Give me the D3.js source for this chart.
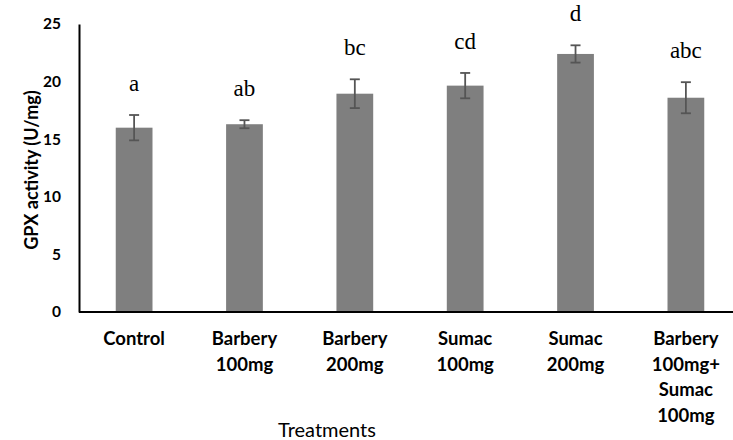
<!DOCTYPE html>
<html>
<head>
<meta charset="utf-8">
<script src="https://cdn.jsdelivr.net/npm/d3@7"></script>
<style>
  body { margin: 0; background: #fff; }
  svg { display: block; }
</style>
</head>
<body>
<div id="app"></div>
<script>
// values
const treatments = [
  ['Control'],
  ['Barbery', '100mg'],
  ['Barbery', '200mg'],
  ['Sumac', '100mg'],
  ['Sumac', '200mg'],
  ['Barbery', '100mg+', 'Sumac', '100mg']
];
const means = [16.0, 16.3, 18.95, 19.65, 22.4, 18.6];
const errors = [1.1, 0.35, 1.25, 1.1, 0.75, 1.35];
const letters = ['a', 'ab', 'bc', 'cd', 'd', 'abc'];
const yTicks = [0, 5, 10, 15, 20, 25];

const data = treatments.map((t, i) => ({
  key: t.join(' '), lines: t, mean: means[i], err: errors[i], letter: letters[i]
}));

const svg = d3.select('#app').append('svg')
    .attr('width', 733)
    .attr('height', 440);

const margin = { top: 24, left: 79, bottom: 128 };
const height = 440 - margin.top - margin.bottom;

const x = d3.scaleBand()
    .domain(data.map(d => d.key))
    .range([margin.left, margin.left + 662])
    .paddingInner(0.667)
    .paddingOuter(0.333);

const y = d3.scaleLinear()
    .domain([0, 25])
    .range([margin.top + height, margin.top]);

// bars
svg.append('g').selectAll('rect')
  .data(data)
  .enter().append('rect')
    .attr('x', d => x(d.key))
    .attr('y', d => y(d.mean))
    .attr('width', x.bandwidth())
    .attr('height', d => y(0) - y(d.mean))
    .attr('fill', '#7f7f7f');

// error bars
const eb = svg.append('g').selectAll('g')
  .data(data)
  .enter().append('g')
    .attr('stroke', '#555')
    .attr('stroke-width', 1.8);

eb.append('line')
    .attr('x1', d => x(d.key) + x.bandwidth() / 2)
    .attr('x2', d => x(d.key) + x.bandwidth() / 2)
    .attr('y1', d => y(d.mean + d.err))
    .attr('y2', d => y(d.mean - d.err));

eb.selectAll('.cap')
  .data(d => [d.mean + d.err, d.mean - d.err].map(v => ({ key: d.key, v })))
  .enter().append('line')
    .attr('class', 'cap')
    .attr('x1', d => x(d.key) + x.bandwidth() / 2 - 5)
    .attr('x2', d => x(d.key) + x.bandwidth() / 2 + 5)
    .attr('y1', d => y(d.v))
    .attr('y2', d => y(d.v));

// significance letters
svg.append('g').selectAll('text')
  .data(data)
  .enter().append('text')
    .attr('x', d => x(d.key) + x.bandwidth() / 2)
    .attr('y', d => y(d.mean + d.err) - 24)
    .attr('text-anchor', 'middle')
    .attr('font-family', '"Liberation Serif", serif')
    .attr('font-size', 23)
    .attr('fill', '#000')
    .text(d => d.letter);

// y axis
const yAxis = svg.append('g')
    .attr('transform', `translate(${margin.left},0)`)
    .call(d3.axisLeft(y).tickValues(yTicks).tickSize(0).tickPadding(18));

yAxis.select('.domain')
    .attr('stroke', '#000')
    .attr('stroke-width', 2);

yAxis.selectAll('.tick text')
    .attr('font-family', 'Lato, sans-serif')
    .attr('font-weight', 'bold')
    .attr('font-size', 15.5)
    .attr('fill', '#000');

// x axis
svg.append('line')
    .attr('x1', margin.left)
    .attr('x2', 733)
    .attr('y1', y(0))
    .attr('y2', y(0))
    .attr('stroke', '#000')
    .attr('stroke-width', 2);

const xl = svg.append('g').selectAll('text')
  .data(data)
  .enter().append('text')
    .attr('text-anchor', 'middle')
    .attr('font-family', 'Lato, sans-serif')
    .attr('font-weight', 'bold')
    .attr('font-size', 18.5)
    .attr('fill', '#000');

xl.selectAll('tspan')
  .data(d => d.lines.map(l => ({ key: d.key, l })))
  .enter().append('tspan')
    .attr('x', d => x(d.key) + x.bandwidth() / 2)
    .attr('y', (d, i) => y(0) + 33 + i * 25.7)
    .text(d => d.l);

// axis titles
svg.append('text')
    .attr('transform', 'rotate(-90)')
    .attr('x', -(margin.top + height / 2 + 2))
    .attr('y', 38)
    .attr('text-anchor', 'middle')
    .attr('font-family', 'Lato, sans-serif')
    .attr('font-weight', 'bold')
    .attr('font-size', 18)
    .attr('fill', '#000')
    .text('GPX activity (U/mg)');

svg.append('text')
    .attr('x', 327)
    .attr('y', 437)
    .attr('text-anchor', 'middle')
    .attr('font-family', 'Lato, sans-serif')
    .attr('font-size', 20)
    .attr('fill', '#000')
    .text('Treatments');
</script>
</body>
</html>
